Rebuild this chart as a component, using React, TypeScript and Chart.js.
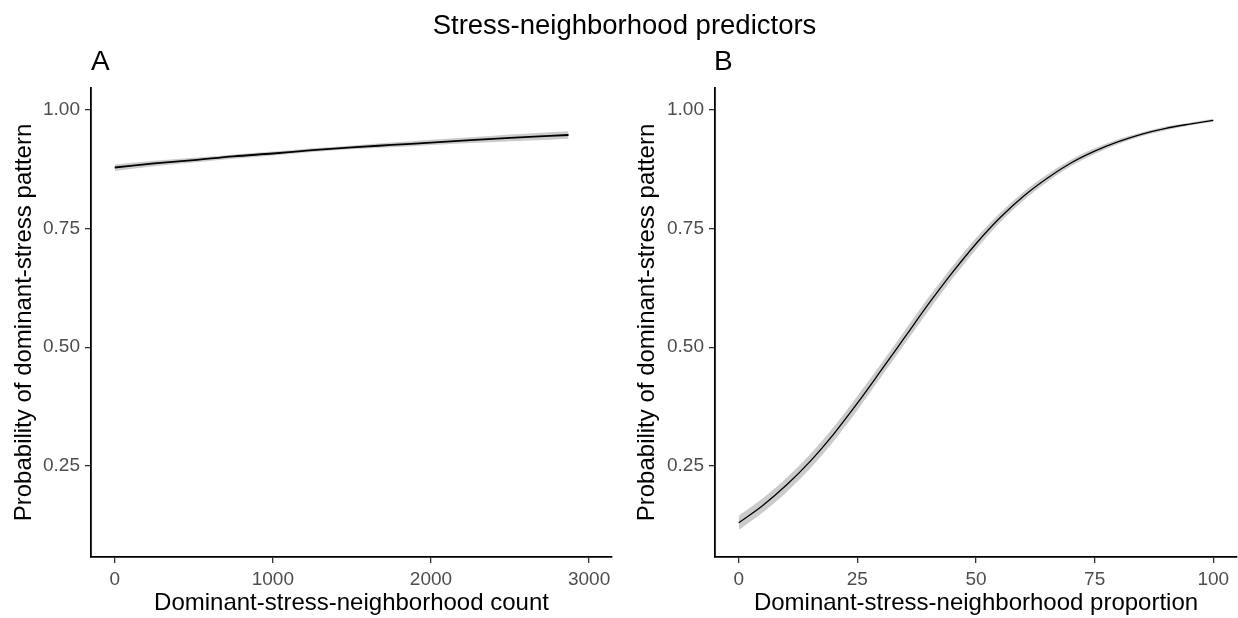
import React, { useEffect, useRef } from "react";
import { Chart, registerables } from "chart.js";

Chart.register(...registerables);

const FONT = "'Liberation Sans', Arial, Helvetica, sans-serif";

// Panel A: dominant-stress-neighborhood count
const countX = [0, 250, 500, 750, 1000, 1250, 1500, 1750, 2000, 2250, 2500, 2750, 2870];
const countProb = [0.8785, 0.887, 0.894, 0.902, 0.908, 0.915, 0.921, 0.926, 0.931, 0.936, 0.941, 0.945, 0.947];
const countLower = [0.871, 0.881, 0.889, 0.897, 0.904, 0.911, 0.917, 0.921, 0.926, 0.930, 0.934, 0.937, 0.939];
const countUpper = [0.885, 0.893, 0.899, 0.906, 0.912, 0.919, 0.925, 0.931, 0.937, 0.942, 0.948, 0.953, 0.955];

// Panel B: dominant-stress-neighborhood proportion
const propX = [0, 5, 10, 15, 20, 25, 30, 35, 40, 45, 50, 55, 60, 65, 70, 75, 80, 85, 90, 95, 100];
const propProb = [0.130, 0.166, 0.209, 0.259, 0.317, 0.382, 0.451, 0.521, 0.591, 0.657, 0.718, 0.772, 0.818, 0.856, 0.888, 0.913, 0.933, 0.949, 0.961, 0.970, 0.978];
const propLower = [0.115, 0.151, 0.194, 0.244, 0.302, 0.367, 0.437, 0.507, 0.577, 0.644, 0.706, 0.762, 0.809, 0.848, 0.881, 0.907, 0.928, 0.945, 0.957, 0.967, 0.975];
const propUpper = [0.145, 0.181, 0.224, 0.274, 0.332, 0.397, 0.465, 0.535, 0.605, 0.670, 0.730, 0.782, 0.827, 0.864, 0.895, 0.919, 0.938, 0.953, 0.965, 0.973, 0.981];

const yTicks = [0.25, 0.5, 0.75, 1.0];
const countTicks = [0, 1000, 2000, 3000];
const propTicks = [0, 25, 50, 75, 100];

const mainTitle = "Stress-neighborhood predictors";
const yTitle = "Probability of dominant-stress pattern";
const countTitle = "Dominant-stress-neighborhood count";
const propTitle = "Dominant-stress-neighborhood proportion";

type PanelProps = {
  left: number;
  width: number;
  yAxisWidth: number;
  rightPad: number;
  xs: number[];
  ys: number[];
  lo: number[];
  hi: number[];
  xMin: number;
  xMax: number;
  xTicks: number[];
  xTitle: string;
  yTitlePad: number;
  lineWidth: number;
};

function Panel(p: PanelProps) {
  const ref = useRef<HTMLCanvasElement | null>(null);
  useEffect(() => {
    if (!ref.current) return;
    const pts = (arr: number[]) => p.xs.map((x, i) => ({ x, y: arr[i] }));
    const gridOpts = {
      display: true,
      drawOnChartArea: false,
      drawTicks: true,
      tickLength: 6,
      color: "#333333",
      lineWidth: 1.3,
    };
    const borderOpts = { display: true, color: "#000000", width: 1.8 };
    const chart = new Chart(ref.current, {
      type: "line",
      data: {
        datasets: [
          {
            data: pts(p.ys),
            borderColor: "#000000",
            borderWidth: p.lineWidth,
            pointRadius: 0,
            fill: false,
            cubicInterpolationMode: "monotone",
          },
          {
            data: pts(p.hi),
            borderWidth: 0,
            borderColor: "rgba(0,0,0,0)",
            backgroundColor: "#cbcbcb",
            pointRadius: 0,
            fill: "+1",
            cubicInterpolationMode: "monotone",
          },
          {
            data: pts(p.lo),
            borderWidth: 0,
            borderColor: "rgba(0,0,0,0)",
            pointRadius: 0,
            fill: false,
            cubicInterpolationMode: "monotone",
          },
        ],
      },
      options: {
        responsive: false,
        animation: false,
        events: [],
        layout: { padding: { top: 88, right: p.rightPad, left: 0, bottom: 0 } },
        plugins: { legend: { display: false }, tooltip: { enabled: false } },
        scales: {
          x: {
            type: "linear",
            min: p.xMin,
            max: p.xMax,
            afterBuildTicks: (s: any) => {
              s.ticks = p.xTicks.map((v) => ({ value: v }));
            },
            afterFit: (s: any) => {
              s.height = 61;
            },
            ticks: {
              autoSkip: false,
              maxRotation: 0,
              padding: 5,
              color: "#4d4d4d",
              font: { family: FONT, size: 19, lineHeight: 1.2 },
              callback: (v: any) => String(v),
            },
            grid: gridOpts,
            border: borderOpts,
            title: {
              display: true,
              text: p.xTitle,
              color: "#000000",
              font: { family: FONT, size: 24, lineHeight: 1.2 },
              padding: { top: 0, bottom: 0 },
            },
          },
          y: {
            type: "linear",
            min: 0.058,
            max: 1.046,
            afterBuildTicks: (s: any) => {
              s.ticks = yTicks.map((v) => ({ value: v }));
            },
            afterFit: (s: any) => {
              s.width = p.yAxisWidth;
            },
            ticks: {
              autoSkip: false,
              padding: 5,
              color: "#4d4d4d",
              font: { family: FONT, size: 19, lineHeight: 1.2 },
              callback: (v: any) => Number(v).toFixed(2),
            },
            grid: gridOpts,
            border: borderOpts,
            title: {
              display: true,
              text: yTitle,
              color: "#000000",
              font: { family: FONT, size: 24, lineHeight: 1.2 },
              padding: { top: p.yTitlePad, bottom: 0 },
            },
          },
        },
      } as any,
    });
    return () => chart.destroy();
  }, []);
  return (
    <canvas
      ref={ref}
      width={p.width}
      height={618}
      style={{ position: "absolute", left: p.left, top: 0, width: p.width, height: 618, display: "block" }}
    />
  );
}

export default function App() {
  const textBase: React.CSSProperties = {
    position: "absolute",
    fontFamily: FONT,
    color: "#000000",
    lineHeight: 1,
    whiteSpace: "nowrap",
  };
  return (
    <div
      style={{
        position: "absolute",
        left: 0,
        top: 0,
        width: 1238,
        height: 618,
        background: "#ffffff",
        overflow: "hidden",
      }}
    >
      <Panel
        left={0}
        width={620}
        yAxisWidth={91}
        rightPad={8}
        xs={countX}
        ys={countProb}
        lo={countLower}
        hi={countUpper}
        xMin={-150}
        xMax={3145}
        xTicks={countTicks}
        xTitle={countTitle}
        yTitlePad={9.6}
        lineWidth={1.8}
      />
      <Panel
        left={620}
        width={618}
        yAxisWidth={95}
        rightPad={1}
        xs={propX}
        ys={propProb}
        lo={propLower}
        hi={propUpper}
        xMin={-5}
        xMax={105}
        xTicks={propTicks}
        xTitle={propTitle}
        yTitlePad={12.6}
        lineWidth={1.3}
      />
      <div style={{ ...textBase, left: 0, width: 1249, top: 11, fontSize: 27.5, textAlign: "center" }}>
        {mainTitle}
      </div>
      <div style={{ ...textBase, left: 91, top: 47, fontSize: 28 }}>A</div>
      <div style={{ ...textBase, left: 714, top: 47, fontSize: 28 }}>B</div>
    </div>
  );
}
